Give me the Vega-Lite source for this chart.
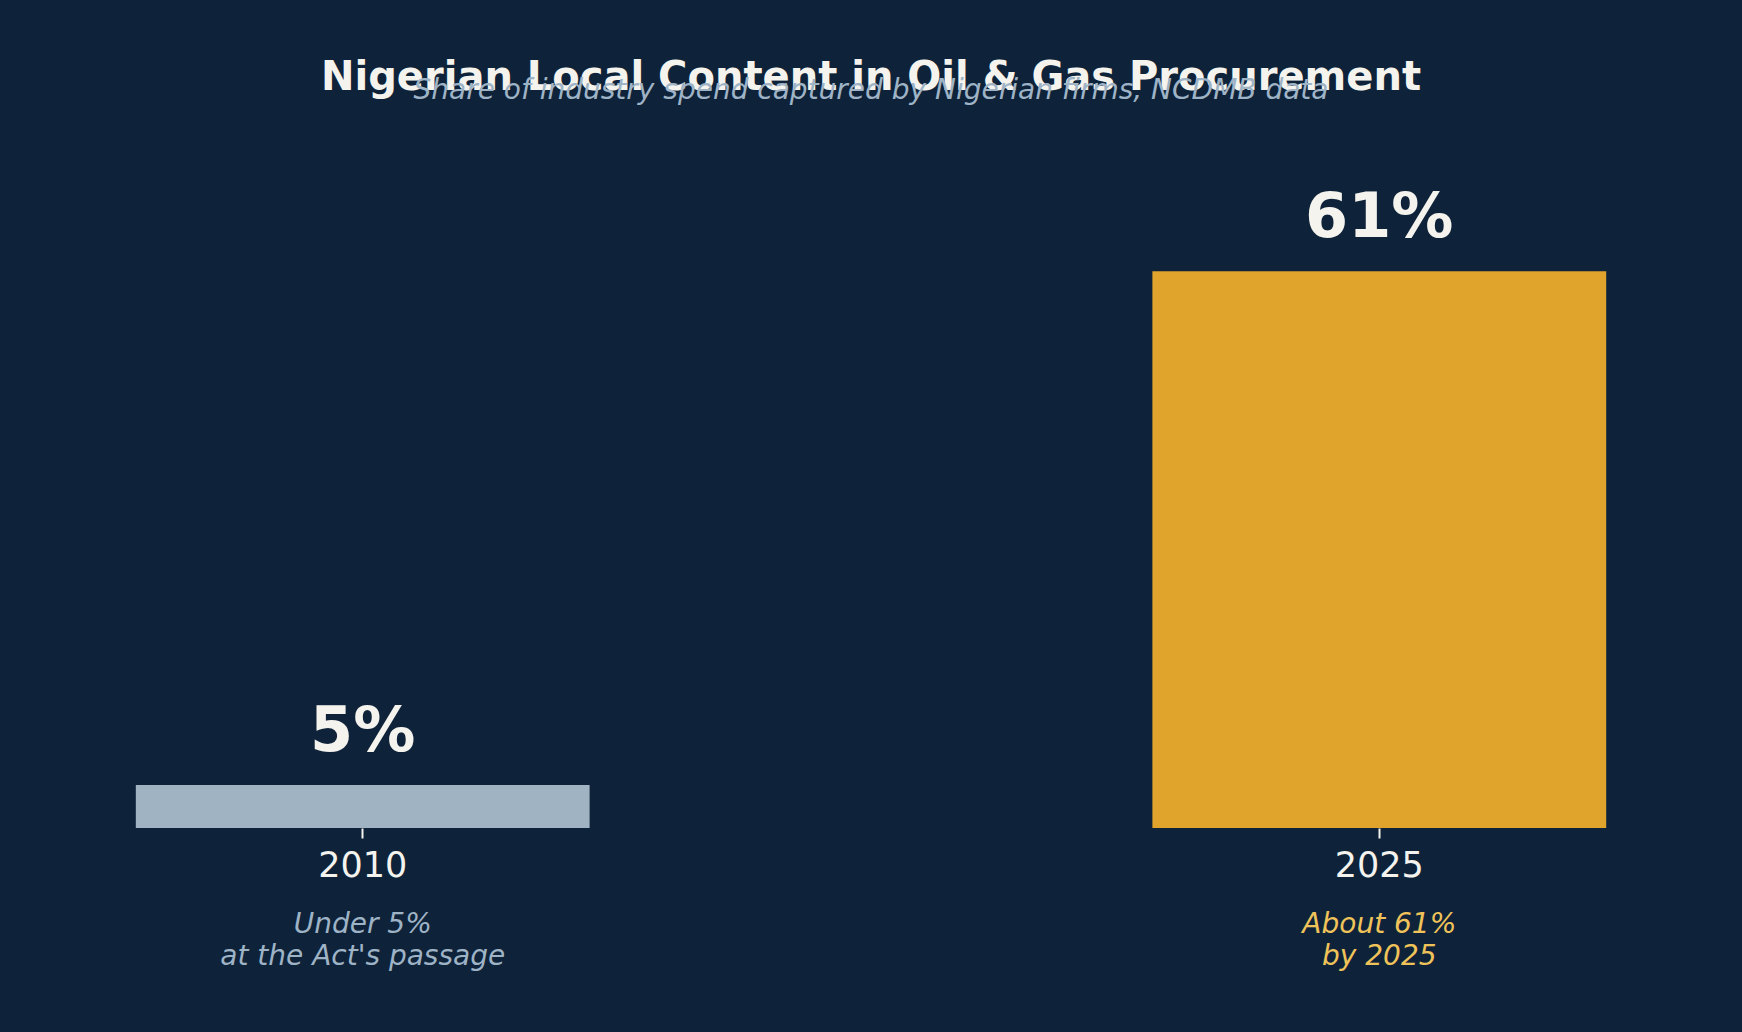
{
  "$schema": "https://vega.github.io/schema/vega-lite/v6.json",
  "autosize": "none",
  "width": 1742,
  "height": 639,
  "padding": {"top": 189, "left": 0, "right": 0, "bottom": 204},
  "background": "#0e2339",
  "config": {
    "view": {"stroke": null},
    "font": "DejaVu Sans"
  },
  "title": {
    "text": "Nigerian Local Content in Oil & Gas Procurement",
    "subtitle": "Share of industry spend captured by Nigerian firms, NCDMB data",
    "anchor": "middle",
    "font": "DejaVu Sans",
    "fontSize": 40,
    "fontWeight": "bold",
    "color": "#f5f3ee",
    "subtitleFont": "DejaVu Sans",
    "subtitleFontSize": 28,
    "subtitleFontStyle": "italic",
    "subtitleColor": "#9fb3c6",
    "subtitlePadding": -21,
    "offset": 82
  },
  "data": {
    "values": [
      {"year": "2010", "share": 4.7, "label": "5%", "note": "Under 5%\nat the Act's passage"},
      {"year": "2025", "share": 61, "label": "61%", "note": "About 61%\nby 2025"}
    ]
  },
  "encoding": {
    "x": {
      "field": "year",
      "type": "nominal",
      "sort": null,
      "scale": {"paddingInner": 0.5536, "paddingOuter": 0.1336},
      "axis": {
        "title": null,
        "labelAngle": 0,
        "labelFont": "DejaVu Sans",
        "labelFontSize": 35,
        "labelColor": "#f5f3ee",
        "labelPadding": 10,
        "domain": false,
        "ticks": true,
        "tickColor": "#f5f3ee",
        "tickSize": 10,
        "tickWidth": 2,
        "grid": false
      }
    }
  },
  "layer": [
    {
      "mark": {"type": "bar"},
      "encoding": {
        "y": {"field": "share", "type": "quantitative", "scale": {"domain": [0, 70]}, "axis": null},
        "color": {
          "field": "year",
          "type": "nominal",
          "scale": {"domain": ["2010", "2025"], "range": ["#a0b3c3", "#e0a32c"]},
          "legend": null
        }
      }
    },
    {
      "mark": {"type": "text", "baseline": "alphabetic", "align": "center", "dy": -34, "fontSize": 62, "fontWeight": "bold", "color": "#f5f3ee", "font": "DejaVu Sans"},
      "encoding": {
        "y": {"field": "share", "type": "quantitative", "scale": {"domain": [0, 70]}, "axis": null},
        "text": {"field": "label"}
      }
    },
    {
      "mark": {"type": "text", "baseline": "alphabetic", "align": "center", "dy": 105, "fontSize": 28, "fontStyle": "italic", "lineHeight": 32, "lineBreak": "\n", "font": "DejaVu Sans"},
      "encoding": {
        "y": {"datum": 0, "type": "quantitative", "scale": {"domain": [0, 70]}, "axis": null},
        "text": {"field": "note"},
        "color": {
          "field": "year",
          "type": "nominal",
          "scale": {"domain": ["2010", "2025"], "range": ["#9fb3c6", "#f0c35a"]},
          "legend": null
        }
      }
    }
  ],
  "resolve": {"scale": {"color": "independent"}}
}
